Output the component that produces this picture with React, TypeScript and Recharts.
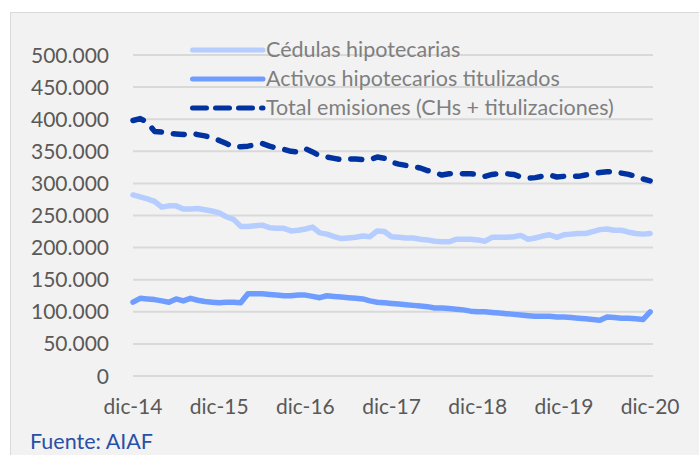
import React from "react";
import { LineChart, Line, XAxis, YAxis, CartesianGrid, Legend } from "recharts";

// Monthly observations, dic-14 .. dic-20 (73 months), values in units
const cedulas = [
  282, 279, 276, 272, 263, 265, 265, 260, 260, 261, 259, 257, 254, 248, 244, 233,
  233, 234, 235, 231, 230, 230, 226, 227, 229, 232, 223, 221, 217, 214, 215, 216,
  218, 217, 226, 225, 217, 216, 215, 215, 213, 212, 210, 209, 209, 213, 213, 213,
  212, 210, 216, 216, 216, 217, 219, 213, 215, 218, 220, 216, 220, 221, 222, 222,
  225, 228, 229, 227, 227, 224, 222, 221, 222,
];
const activos = [
  115, 121, 120, 119, 117, 115, 120, 117, 121, 118, 116, 115, 114, 115, 115, 114,
  128, 128, 128, 127, 126, 125, 125, 126, 126, 124, 122, 125, 124, 123, 122, 121,
  120, 117, 115, 114, 113, 112, 111, 110, 109, 108, 106, 106, 105, 104, 103, 101,
  100, 100, 99, 98, 97, 96, 95, 94, 93, 93, 93, 92, 92, 91, 90, 89,
  88, 87, 92, 91, 90, 90, 89, 88, 100,
];
const total = [
  398, 401, 395, 381, 380, 378, 377, 376, 378, 376, 374, 371, 367, 362, 357, 357,
  358, 360, 362, 358, 355, 353, 350, 349, 354, 349, 343, 341, 339, 337, 338, 338,
  337, 337, 341, 339, 333, 330, 328, 326, 324, 320, 317, 313, 315, 316, 315, 315,
  314, 311, 314, 315, 315, 314, 310, 308, 309, 311, 313, 310, 311, 311, 311, 313,
  315, 317, 318, 318, 316, 314, 311, 307, 304,
];
const xTickIndex = [0, 12, 24, 36, 48, 60, 72];
const xTickLabels = ["dic-14", "dic-15", "dic-16", "dic-17", "dic-18", "dic-19", "dic-20"];
const yTicks = [0, 50000, 100000, 150000, 200000, 250000, 300000, 350000, 400000, 450000, 500000];
const seriesNames = ["Cédulas hipotecarias", "Activos hipotecarios titulizados", "Total emisiones (CHs + titulizaciones)"];
const sourceText = "Fuente: AIAF";

const data = cedulas.map((c, i) => ({
  i,
  cedulas: c * 1000,
  activos: activos[i] * 1000,
  total: total[i] * 1000,
}));

const FONT = "Lato, 'Open Sans', sans-serif";
const C_CED = "#b6cdff";
const C_ACT = "#6e9dff";
const C_TOT = "#0033a0";

const fmt = (v: number) => (v === 0 ? "0" : String(v).replace(/\B(?=(\d{3})+(?!\d))/g, "."));

const YTick = (props: any) => {
  const { x, y, payload } = props;
  return (
    <text x={x} y={y + 7.5} textAnchor="end" fontFamily={FONT} fontSize={21} fill="#595959">
      {fmt(payload.value)}
    </text>
  );
};

const XTick = (props: any) => {
  const { x, y, payload } = props;
  const idx = xTickIndex.indexOf(payload.value);
  return (
    <text x={x} y={y + 38} textAnchor="middle" fontFamily={FONT} fontSize={21} fill="#595959">
      {idx >= 0 ? xTickLabels[idx] : ""}
    </text>
  );
};

const LegendContent = () => {
  const items = [
    { name: seriesNames[0], color: C_CED, dash: undefined as string | undefined },
    { name: seriesNames[1], color: C_ACT, dash: undefined },
    { name: seriesNames[2], color: C_TOT, dash: "14 9" },
  ];
  return (
    <div>
      {items.map((it) => (
        <div key={it.name} style={{ display: "flex", alignItems: "center", height: 29 }}>
          <svg width={76} height={10} style={{ display: "block" }}>
            <line
              x1={2.5}
              y1={5}
              x2={73}
              y2={5}
              stroke={it.color}
              strokeWidth={5}
              strokeLinecap="round"
              strokeDasharray={it.dash}
            />
          </svg>
          <span
            style={{
              fontFamily: FONT,
              fontSize: 21.5,
              color: "#7f7f7f",
              lineHeight: 1,
              whiteSpace: "nowrap",
              marginLeft: 0,
            }}
          >
            {it.name}
          </span>
        </div>
      ))}
    </div>
  );
};

export default function App() {
  return (
    <div style={{ position: "fixed", left: 0, top: 0, width: 699, height: 455, overflow: "hidden", background: "#ffffff" }}>
      <div
        style={{
          position: "absolute",
          left: 10,
          top: 12,
          width: 720,
          height: 480,
          background: "#f2f2f2",
          border: "1px solid #d9d9d9",
        }}
      />
      <div style={{ position: "absolute", left: 0, top: 0 }}>
        <LineChart width={699} height={455} data={data} margin={{ top: 55, right: 46, bottom: 49, left: 0 }}>
          <CartesianGrid horizontal vertical={false} stroke="#d9d9d9" strokeWidth={2} />
          <XAxis
            dataKey="i"
            type="number"
            domain={[0, 72.4]}
            ticks={xTickIndex}
            interval={0}
            axisLine={false}
            tickLine={false}
            tickSize={0}
            tickMargin={0}
            height={30}
            tick={<XTick />}
          />
          <YAxis
            type="number"
            domain={[0, 500000]}
            ticks={yTicks}
            interval={0}
            axisLine={false}
            tickLine={false}
            tickSize={0}
            tickMargin={24}
            width={133}
            tick={<YTick />}
          />
          <Legend
            layout="vertical"
            align="center"
            verticalAlign="middle"
            content={<LegendContent />}
            wrapperStyle={{ left: 190, top: 35.5, width: 460 }}
          />
          <Line
            dataKey="cedulas"
            name={seriesNames[0]}
            stroke={C_CED}
            strokeWidth={5.5}
            dot={false}
            strokeLinejoin="round"
            strokeLinecap="round"
            isAnimationActive={false}
          />
          <Line
            dataKey="activos"
            name={seriesNames[1]}
            stroke={C_ACT}
            strokeWidth={5.5}
            dot={false}
            strokeLinejoin="round"
            strokeLinecap="round"
            isAnimationActive={false}
          />
          <Line
            dataKey="total"
            name={seriesNames[2]}
            stroke={C_TOT}
            strokeWidth={5.5}
            strokeDasharray="11 12"
            dot={false}
            strokeLinejoin="round"
            strokeLinecap="round"
            isAnimationActive={false}
          />
        </LineChart>
      </div>
      <div
        style={{
          position: "absolute",
          left: 30,
          top: 431,
          fontFamily: FONT,
          fontSize: 21.5,
          lineHeight: 1,
          color: "#2850a8",
          whiteSpace: "nowrap",
        }}
      >
        {sourceText}
      </div>
    </div>
  );
}
